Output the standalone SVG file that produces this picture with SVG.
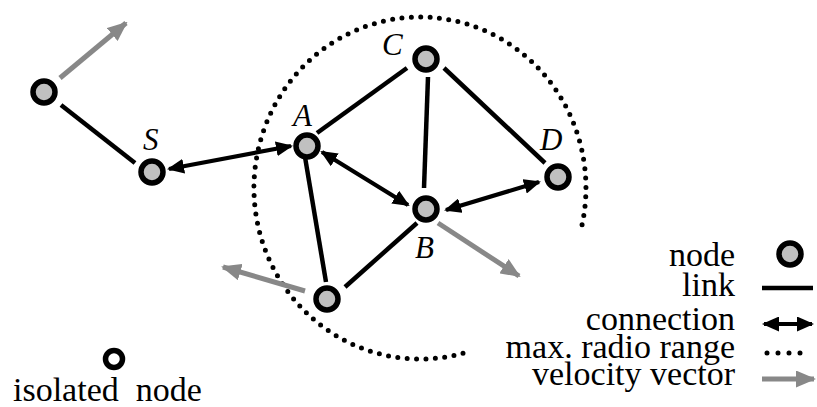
<svg xmlns="http://www.w3.org/2000/svg" width="817" height="407" viewBox="0 0 817 407">
<style>
.node{fill:#c0c0c0;stroke:#000;stroke-width:5.5}
.iso{fill:#fff;stroke:#000;stroke-width:5.5}
.link{stroke:#000;stroke-width:4.5;fill:none}
.conn{stroke:#000;stroke-width:4.2;fill:none;marker-start:url(#ah);marker-end:url(#ah)}
.vel{stroke:#888;stroke-width:5;fill:none;marker-end:url(#gh)}
.range{stroke:#000;stroke-width:5;fill:none;stroke-linecap:round;stroke-dasharray:0 9.4}
.lbl{font-family:"Liberation Serif","Times New Roman",serif;font-style:italic;font-size:31px;fill:#000}
.leg{font-family:"Liberation Serif","Times New Roman",serif;font-size:34px;fill:#000}
</style>
<defs>
<marker id="ah" markerUnits="userSpaceOnUse" viewBox="0 0 17 15" refX="15" refY="7.5" markerWidth="17" markerHeight="15" orient="auto-start-reverse">
<path d="M0,0 L17,7.5 L0,15 Z" fill="#000"/>
</marker>
<marker id="gh" markerUnits="userSpaceOnUse" viewBox="0 0 20 17" refX="18" refY="8.5" markerWidth="20" markerHeight="17" orient="auto">
<path d="M0,0 L20,8.5 L0,17 Z" fill="#888"/>
</marker>
</defs>
<g id="radio-range">
<path class="range" d="M463,353.2 A166,171 0 1 1 580.3,232.3"/>
</g>
<g id="connectors">
<line class="link" x1="61" y1="105" x2="135" y2="163"/>
<line class="link" x1="317" y1="133" x2="407" y2="68"/>
<line class="link" x1="428" y1="77" x2="424" y2="188"/>
<line class="link" x1="444" y1="68" x2="545" y2="163"/>
<line class="link" x1="305" y1="157" x2="326" y2="282"/>
<line class="link" x1="345" y1="287" x2="417" y2="223"/>
<line class="conn" x1="169" y1="169" x2="291" y2="146"/>
<line class="conn" x1="322" y1="152" x2="408" y2="205"/>
<line class="conn" x1="446" y1="210" x2="539" y2="182"/>
<line class="vel" x1="60" y1="78" x2="126" y2="23"/>
<line class="vel" x1="438" y1="223" x2="519" y2="276"/>
<line class="vel" x1="305" y1="291" x2="223" y2="267"/>
</g>
<g id="node-tl"><circle class="node" cx="44" cy="92" r="11"/></g>
<g id="node-S"><circle class="node" cx="152" cy="172" r="11"/><text class="lbl" x="143" y="150">S</text></g>
<g id="node-A"><circle class="node" cx="307" cy="146" r="11"/><text class="lbl" x="293" y="126">A</text></g>
<g id="node-C"><circle class="node" cx="426" cy="59" r="11"/><text class="lbl" x="382" y="55">C</text></g>
<g id="node-D"><circle class="node" cx="558" cy="177" r="11"/><text class="lbl" x="540" y="150">D</text></g>
<g id="node-B"><circle class="node" cx="426" cy="209" r="11"/><text class="lbl" x="415" y="258">B</text></g>
<g id="node-bottom"><circle class="node" cx="327" cy="299" r="11"/></g>
<g id="isolated-node"><circle class="iso" cx="114" cy="359" r="8.5"/><text class="leg" x="13" y="401" xml:space="preserve">isolated  node</text></g>
<g id="legend">
<circle class="node" cx="790" cy="254" r="11"/>
<text class="leg" x="735" y="266" text-anchor="end">node</text>
<line class="link" x1="762" y1="288" x2="813" y2="288"/>
<text class="leg" x="735" y="296" text-anchor="end">link</text>
<line class="conn" x1="764" y1="324" x2="812" y2="324"/>
<text class="leg" x="735" y="330" text-anchor="end">connection</text>
<line class="range" x1="767" y1="353" x2="811" y2="353" style="stroke-dasharray:0 11"/>
<text class="leg" x="735" y="358" text-anchor="end">max. radio range</text>
<line class="vel" x1="762" y1="379" x2="814" y2="379"/>
<text class="leg" x="735" y="385" text-anchor="end">velocity vector</text>
</g>
</svg>
